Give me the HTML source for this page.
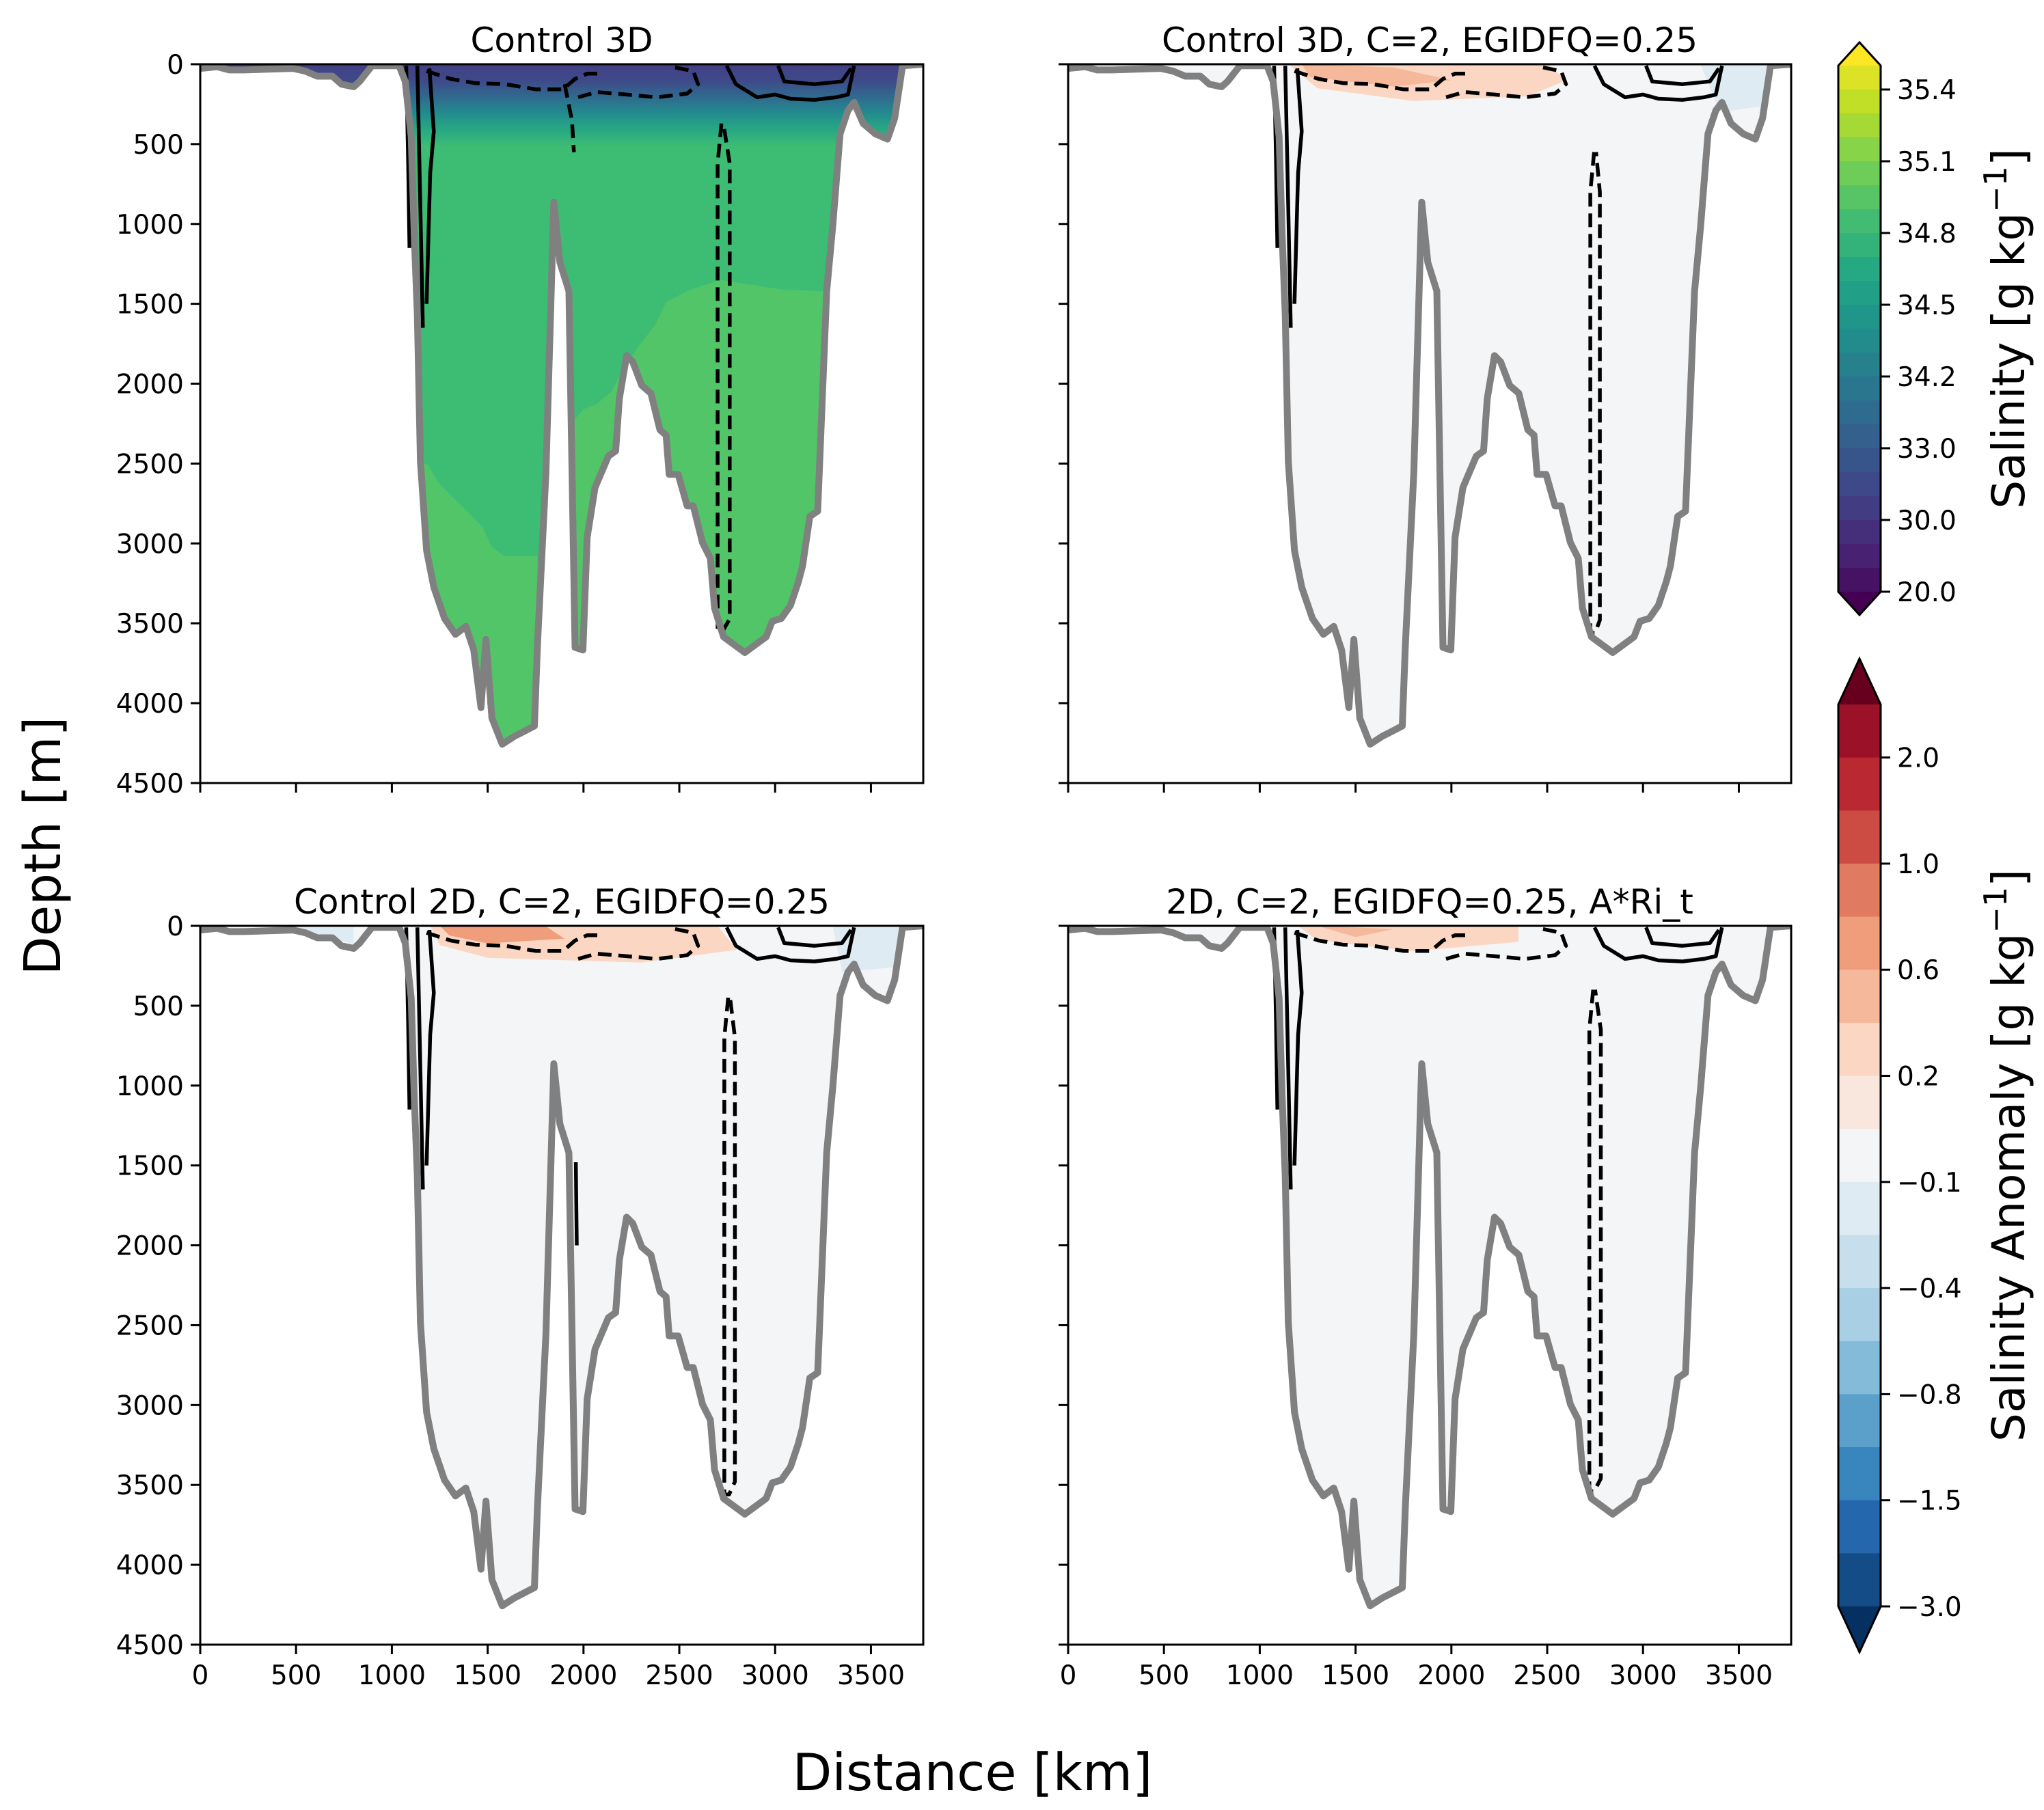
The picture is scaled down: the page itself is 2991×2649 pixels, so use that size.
<!DOCTYPE html>
<html><head><meta charset="utf-8"><style>
html,body{margin:0;padding:0;background:#fff;}
svg{display:block;font-family:"DejaVu Sans","Liberation Sans",sans-serif;}
</style></head><body>
<svg id="fig" width="2991" height="2649" viewBox="0 0 2991 2649" xmlns="http://www.w3.org/2000/svg">
<defs>
<linearGradient id="surfGrad" gradientUnits="userSpaceOnUse" x1="0" y1="94" x2="0" y2="235">
<stop offset="0" stop-color="#433f86"/><stop offset="0.17" stop-color="#3e4a89"/><stop offset="0.33" stop-color="#31688e"/><stop offset="0.5" stop-color="#23898e"/><stop offset="0.67" stop-color="#26a784"/><stop offset="0.85" stop-color="#3dbc74"/><stop offset="1" stop-color="#3dbc74"/>
</linearGradient>
</defs>
</svg>
<script>
// ---- data ----
const bathyKm = [0,89,152,231,484,548,611,690,737,801,832,896,1038,1070,1101,1117,1133,1149,1181,1219,1275,1332,1386,1427,1465,1491,1522,1576,1639,1744,1760,1804,1845,1877,1924,1956,1997,2019,2060,2130,2168,2187,2225,2257,2304,2352,2399,2431,2447,2494,2541,2573,2621,2662,2684,2731,2842,2953,2985,3032,3080,3121,3143,3181,3222,3269,3301,3339,3380,3412,3459,3523,3586,3624,3665,3773];
const bathyDepth = [26,16,36,36,26,43,75,75,125,141,108,10,10,108,453,1076,1568,2486,3044,3273,3470,3569,3519,3667,4028,3601,4093,4257,4208,4143,3634,2552,863,1240,1420,3651,3667,2962,2650,2453,2421,2093,1824,1863,2011,2060,2289,2322,2568,2568,2765,2765,2995,3093,3405,3585,3683,3585,3487,3470,3388,3241,3142,2831,2798,1420,1010,436,289,239,371,436,469,338,10,0];
const xTicks = [0,500,1000,1500,2000,2500,3000,3500];
const yTicks = [0,500,1000,1500,2000,2500,3000,3500,4000,4500];
const panelTitles = ["Control 3D","Control 3D, C=2, EGIDFQ=0.25","Control 2D, C=2, EGIDFQ=0.25","2D, C=2, EGIDFQ=0.25, A*Ri_t"];
const salTicks = ["35.4","35.1","34.8","34.5","34.2","33.0","30.0","20.0"];
const anomTicks = ["2.0","1.0","0.6","0.2","\u22120.1","\u22120.4","\u22120.8","\u22121.5","\u22123.0"];
const anomColors = ["#9b1127","#ba2832","#cc4c44","#e07b62","#ef9d7a","#f5b89a","#fbd6c2","#f9e7de","#f4f5f6","#deebf3","#c7dfec","#a9cfe4","#84bbd9","#5aa0cb","#3985be","#2467ad","#134c87"];
// contour lines [km, depth]
const contourSolidA = [[1075,10],[1085,600],[1092,1150]];
const contourSolidB = [[1133,10],[1149,912],[1162,1650]];
const contourSolidC = [[1196,26],[1219,420],[1200,682],[1181,1500]];
const contourDashD1 = [[1181,43],[1307,92],[1434,118],[1592,125],[1750,157],[1893,157],[1956,92],[2019,59],[2098,59]];
const contourDashD2 = [[1902,125],[1940,354],[1950,551]];
const contourDashD3 = [[1972,207],[2067,174],[2225,190],[2383,207],[2541,184],[2598,125],[2573,43],[2478,20]];
const contourSolidS1 = [[2747,10],[2795,125],[2906,207],[3000,190],[3080,216],[3206,223],[3317,207],[3380,190],[3412,10]];
const contourSolidS2 = [[3016,10],[3048,108],[3206,125],[3349,108],[3396,26]];
const loopTop = [371,550,450,400];
const loopLeft = [2700,2725,2735,2720];
const loopRight = [2763,2775,2790,2780];
const loopBottom = [3552,3560,3560,3540];
// light-green deep water region in panel 1 (km, depth)
const deepZoneA = [[1140,2480],[1190,2510],[1237,2610],[1316,2710],[1395,2800],[1475,2900],[1520,3020],[1585,3080],[1760,3080],[1760,4600],[1140,4600]];
const deepZoneB = [[1950,2230],[2000,2160],[2067,2130],[2146,2050],[2210,1900],[2304,1740],[2370,1640],[2431,1490],[2557,1410],[2716,1350],[2874,1380],[3032,1410],[3222,1420],[3350,1420],[3350,4600],[1950,4600]];
// anomaly patches per panel: [panel, color, points]
const anomPatches = [
 [1,"#fbd6c2",[[1150,0],[2500,0],[2600,100],[2400,200],[1800,230],[1300,150]]],
 [1,"#f5b89a",[[1220,0],[1700,20],[2000,100],[1700,140],[1260,80]]],
 [1,"#deebf3",[[3300,0],[3700,0],[3700,250],[3400,300],[3350,150]]],
 [2,"#fbd6c2",[[1200,0],[2700,0],[2800,150],[2300,230],[1500,200],[1250,120]]],
 [2,"#ef9d7a",[[1250,0],[1800,0],[1900,80],[1500,110],[1300,60]]],
 [2,"#deebf3",[[3300,0],[3700,0],[3700,250],[3350,290]]],
 [2,"#deebf3",[[450,0],[800,0],[800,110],[600,60]]],
 [3,"#fbd6c2",[[1200,0],[2350,0],[2350,100],[1800,160],[1300,90]]],
 [3,"#f5b89a",[[1300,0],[1700,20],[1500,70]]]
];
// ---- layout ----
const panels = [{x:293,y:94},{x:1563,y:94},{x:293,y:1355},{x:1563,y:1355}];
const PW = 1058, PH = 1052, XMAX = 3773, YMAX = 4500;
const svg = document.getElementById('fig');
const NS = "http://www.w3.org/2000/svg";
function mk(tag, attrs, parent){const e=document.createElementNS(NS,tag);for(const k in attrs)e.setAttribute(k,attrs[k]);(parent||svg).appendChild(e);return e;}
function sx(p,km){return p.x + km/XMAX*PW;}
function sy(p,m){return p.y + m/YMAX*PH;}
function ptsStr(p,arr){return arr.map(d=>sx(p,d[0]).toFixed(1)+","+sy(p,d[1]).toFixed(1)).join(" ");}
function bathyPts(){return bathyKm.map((k,i)=>[k,bathyDepth[i]]);}
const defs = svg.querySelector('defs');

panels.forEach((p,pi)=>{
  const g = mk('g',{});
  
  
  const cp = mk('clipPath',{id:'water'+pi},defs);
  const waterPoly = bathyPts().concat([[XMAX,0],[0,0]]);
  mk('polygon',{points:ptsStr(p,waterPoly)},cp);
  const cpa = mk('clipPath',{id:'axes'+pi},defs);
  mk('rect',{x:p.x,y:p.y,width:PW,height:PH},cpa);
  const fillG = mk('g',{'clip-path':'url(#water'+pi+')'},g);
  
  
  if(pi===0){
    mk('rect',{x:p.x,y:p.y,width:PW,height:PH,fill:'url(#surfGrad)'},fillG);
    const a = mk('polygon',{points:ptsStr(p,deepZoneA),fill:'#52c569'},fillG);
    
    
    const b = mk('polygon',{points:ptsStr(p,deepZoneB),fill:'#52c569'},fillG);
    
    
  } else {
    mk('rect',{x:p.x,y:p.y,width:PW,height:PH,fill:'#f4f5f7'},fillG);
    anomPatches.filter(a=>a[0]===pi).forEach(a=>{
      const e = mk('polygon',{points:ptsStr(p,a[2]),fill:a[1]},fillG);
      
      
    });
  }
  const cg = mk('g',{'clip-path':'url(#axes'+pi+')',fill:'none',stroke:'#000','stroke-width':5.5,'stroke-linejoin':'round'},g);
  
  
  const solids=[contourSolidA,contourSolidB,contourSolidC,contourSolidS1,contourSolidS2];
  const dashes=[contourDashD1,contourDashD3];
  if(pi===0) dashes.push(contourDashD2);
  solids.forEach(c=>{const e=mk('polyline',{points:ptsStr(p,c)},cg);
    
    });
  dashes.forEach(c=>{const e=mk('polyline',{points:ptsStr(p,c),'stroke-dasharray':'20 10'},cg);
    
    });
  const loop=[[loopLeft[pi]+20,loopTop[pi]],[loopLeft[pi],loopTop[pi]+250],[loopLeft[pi],loopBottom[pi]],[loopLeft[pi]+25,loopBottom[pi]],[loopRight[pi],loopBottom[pi]-80],[loopRight[pi],loopTop[pi]+250],[loopLeft[pi]+30,loopTop[pi]]];
  const le=mk('polyline',{points:ptsStr(p,loop),'stroke-dasharray':'20 10'},cg);
  
  
  if(pi===2){
    const e=mk('polyline',{points:ptsStr(p,[[1960,1480],[1965,2000]])},cg);
    
    
  }
  const bl = mk('polyline',{points:ptsStr(p,bathyPts()),fill:'none',stroke:'#808080','stroke-width':10,'stroke-linejoin':'round','stroke-linecap':'round','clip-path':'url(#axes'+pi+')'},g);
  
  
  const fr = mk('rect',{x:p.x,y:p.y,width:PW,height:PH,fill:'none',stroke:'#000','stroke-width':3},g);
  
  
  xTicks.forEach(t=>{
    const x=sx(p,t);
    const tk=mk('line',{x1:x,y1:p.y+PH,x2:x,y2:p.y+PH+14,stroke:'#000','stroke-width':3},g);
    
    
    if(pi>=2){const tl=mk('text',{x:x,y:p.y+PH+58,'font-size':39,'text-anchor':'middle'},g);tl.textContent=t;
      
      }
  });
  yTicks.forEach(t=>{
    const y=sy(p,t);
    const tk=mk('line',{x1:p.x-14,y1:y,x2:p.x,y2:y,stroke:'#000','stroke-width':3},g);
    
    
    if(pi%2===0){const tl=mk('text',{x:p.x-24,y:y+14,'font-size':39,'text-anchor':'end'},g);tl.textContent=t;
      
      }
  });
  const tt=mk('text',{x:p.x+PW/2,y:p.y-18,'font-size':50,'text-anchor':'middle'},g);
  tt.textContent=panelTitles[pi];
  
  
});

const xl=mk('text',{x:1423,y:2620,'font-size':75,'text-anchor':'middle'});xl.textContent='Distance [km]';


const yl=mk('text',{x:0,y:0,'font-size':74,'text-anchor':'middle',transform:'translate(88,1238) rotate(-90)'});yl.textContent='Depth [m]';



const CBX=2690, CBW=62;
const vir=[[68,1,84],[72,35,116],[64,67,135],[52,94,141],[41,120,142],[32,144,140],[34,167,132],[68,190,112],[121,209,81],[189,222,38],[253,231,37]];
function viridis(t){const n=vir.length-1;const f=t*n;const i=Math.min(n-1,Math.floor(f));const r=f-i;const c=vir[i].map((v,k)=>Math.round(v+(vir[i+1][k]-v)*r));return 'rgb('+c.join(',')+')';}
const cb1=mk('g',{});


const c1top=96,c1bot=866,nb1=22,bh1=(c1bot-c1top)/nb1;
for(let i=0;i<nb1;i++){mk('rect',{x:CBX,y:c1top+i*bh1,width:CBW,height:bh1+0.6,fill:viridis(1-(i+0.5)/nb1*0.94-0.03)},cb1);}
mk('polygon',{points:`${CBX},${c1top} ${CBX+CBW/2},${c1top-34} ${CBX+CBW},${c1top}`,fill:'#fde725'},cb1);
mk('polygon',{points:`${CBX},${c1bot} ${CBX+CBW/2},${c1bot+34} ${CBX+CBW},${c1bot}`,fill:'#440154'},cb1);
mk('polygon',{points:`${CBX},${c1top} ${CBX+CBW/2},${c1top-34} ${CBX+CBW},${c1top} ${CBX+CBW},${c1bot} ${CBX+CBW/2},${c1bot+34} ${CBX},${c1bot}`,fill:'none',stroke:'#000','stroke-width':3},cb1);
salTicks.forEach((t,i)=>{const y=c1top+(1+3*i)*bh1;
  mk('line',{x1:CBX+CBW,y1:y,x2:CBX+CBW+14,y2:y,stroke:'#000','stroke-width':3},cb1);
  const tl=mk('text',{x:CBX+CBW+24,y:y+14,'font-size':39},cb1);tl.textContent=t;
  
  });
const l1=mk('text',{x:0,y:0,'font-size':66,'text-anchor':'middle',transform:`translate(2962,${(c1top+c1bot)/2}) rotate(-90)`},cb1);
l1.innerHTML='Salinity [g kg<tspan dy="-26" font-size="46">\u22121</tspan><tspan dy="26">]</tspan>';



const cb2=mk('g',{});


const c2top=1031,c2bot=2351,nb2=anomColors.length,bh2=(c2bot-c2top)/nb2;
anomColors.forEach((c,i)=>mk('rect',{x:CBX,y:c2top+i*bh2,width:CBW,height:bh2+0.6,fill:c},cb2));
mk('polygon',{points:`${CBX},${c2top} ${CBX+CBW/2},${c2top-67} ${CBX+CBW},${c2top}`,fill:'#67001f'},cb2);
mk('polygon',{points:`${CBX},${c2bot} ${CBX+CBW/2},${c2bot+67} ${CBX+CBW},${c2bot}`,fill:'#053061'},cb2);
mk('polygon',{points:`${CBX},${c2top} ${CBX+CBW/2},${c2top-67} ${CBX+CBW},${c2top} ${CBX+CBW},${c2bot} ${CBX+CBW/2},${c2bot+67} ${CBX},${c2bot}`,fill:'none',stroke:'#000','stroke-width':3},cb2);
anomTicks.forEach((t,i)=>{const y=c2top+(1+2*i)*bh2;
  mk('line',{x1:CBX+CBW,y1:y,x2:CBX+CBW+14,y2:y,stroke:'#000','stroke-width':3},cb2);
  const tl=mk('text',{x:CBX+CBW+24,y:y+14,'font-size':39},cb2);tl.textContent=t;
  
  });
const l2=mk('text',{x:0,y:0,'font-size':66,'text-anchor':'middle',transform:`translate(2962,${(c2top+c2bot)/2}) rotate(-90)`},cb2);
l2.innerHTML='Salinity Anomaly [g kg<tspan dy="-26" font-size="46">\u22121</tspan><tspan dy="26">]</tspan>';


</script>
</body></html>
